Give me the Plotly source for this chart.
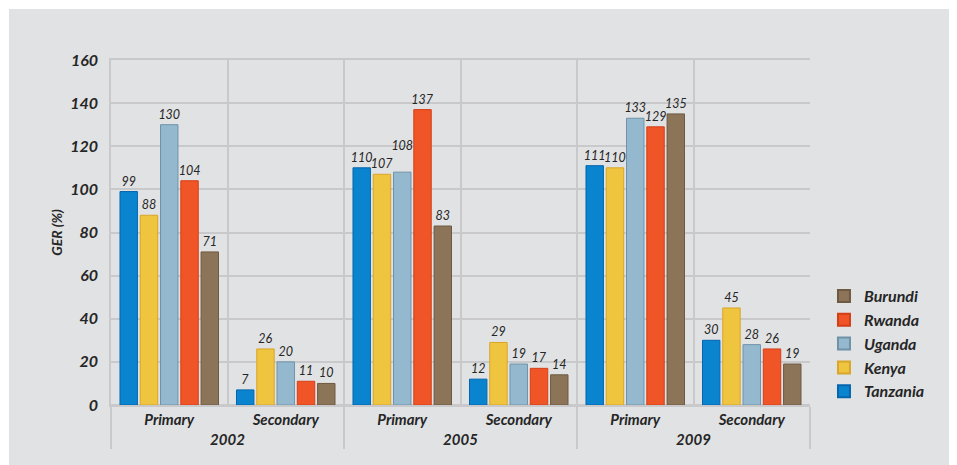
import plotly.graph_objects as go

# Gross enrolment ratio by country, level and year.
years = ["2002", "2002", "2005", "2005", "2009", "2009"]
levels = ["Primary", "Secondary", "Primary", "Secondary", "Primary", "Secondary"]
countries = ["Tanzania", "Kenya", "Uganda", "Rwanda", "Burundi"]
tanzania = [99, 7, 110, 12, 111, 30]
kenya = [88, 26, 107, 29, 110, 45]
uganda = [130, 20, 108, 19, 133, 28]
rwanda = [104, 11, 137, 17, 129, 26]
burundi = [71, 10, 83, 14, 135, 19]
values = [tanzania, kenya, uganda, rwanda, burundi]
colors = ["#0a84cf", "#efc43e", "#94b9cf", "#f05528", "#8b7457"]
edges = ["#0566ad", "#d9a52a", "#6f92a8", "#d43f17", "#6e5a42"]

FONT = "Lato"
INK = "#262626"
GRID = "#c9c9cb"
PANEL = "#e1e2e4"

fig = go.Figure()
for name, vals, col, edge in zip(countries, values, colors, edges):  # one trace per country
    labels = [str(v) for v in vals]
    if name == "Uganda":  # the reference lifts this label clear of its neighbours
        labels[2] = labels[2] + "<br>&nbsp;"
    fig.add_trace(go.Bar(
        name=name,
        legendgroup=name,
        x=[years, levels],
        y=vals,
        marker=dict(color=col, line=dict(color=edge, width=1)),
        text=labels,
        textposition="outside",
        constraintext="none",
        cliponaxis=False,
        textfont=dict(family=FONT, size=12.5, color=INK, style="italic"),
    ))

# the page has an 8px body margin, so margins are shifted to compensate
fig.update_layout(
    width=957, height=465,
    margin=dict(l=103, r=155, t=52, b=68),
    paper_bgcolor="white",
    plot_bgcolor="rgba(0,0,0,0)",
    barmode="group",
    bargap=0.13,
    bargroupgap=0.14,
    font=dict(family=FONT, color=INK),
    showlegend=True,
    legend=dict(
        traceorder="reversed",
        x=1.02, y=0.365, xanchor="left", yanchor="top",
        bgcolor="rgba(0,0,0,0)",
        font=dict(family=FONT, size=16, color=INK, weight="bold", style="italic"),
        itemsizing="constant",
        tracegroupgap=1,
    ),
    shapes=[dict(  # grey panel behind the chart
        type="rect", xref="paper", yref="paper",
        x0=-0.146, x1=1.3, y0=-0.2, y1=1.148,
        fillcolor=PANEL, line=dict(width=0), layer="below",
    )],
)

fig.update_xaxes(
    type="multicategory",
    showgrid=True, gridcolor=GRID, gridwidth=1.5,
    showline=True, linecolor=GRID, linewidth=1.5, mirror=True,
    dividercolor=GRID, dividerwidth=1.5,
    tickfont=dict(family=FONT, size=15, color=INK, weight="bold", style="italic"),
    ticks="",
)
fig.update_yaxes(
    range=[0, 160], dtick=20,
    showgrid=True, gridcolor=GRID, gridwidth=1.5,
    showline=True, linecolor=GRID, linewidth=1.5,
    zeroline=True, zerolinecolor=GRID, zerolinewidth=1.5,
    tickfont=dict(family=FONT, size=16, color=INK, weight="bold", style="italic"),
    ticklabelstandoff=8,
    title=dict(text="GER (%)", standoff=4,
               font=dict(family=FONT, size=14, color=INK, weight="bold", style="italic")),
)

fig.write_html("out.html")
